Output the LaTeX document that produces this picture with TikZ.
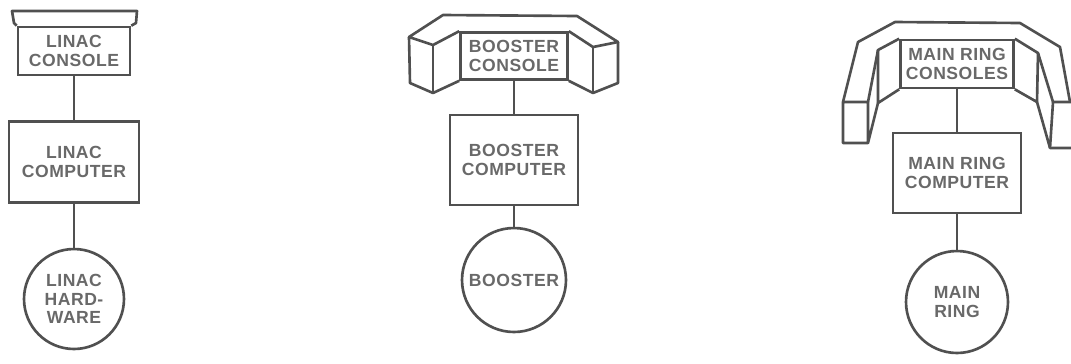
\documentclass[tikz,border=0pt]{standalone}
\usepackage{fontspec}
\usepackage{tikz}
\usetikzlibrary{positioning,calc}
\newfontfamily\labelfont[LetterSpace=3]{Liberation Sans Bold}
\definecolor{inkgray}{RGB}{80, 80, 80}
\definecolor{textgray}{RGB}{105, 105, 105}

\begin{document}
\begin{tikzpicture}[
    x=0.02cm, y=-0.02cm,
    part/.style={draw=inkgray, line width=1.5pt, inner sep=0pt, align=center,
        text=textgray, font=\labelfont\fontsize{10}{10.6}\selectfont},
    box/.style={part, rectangle},
    hw/.style={part, circle},
    wing/.style={draw=inkgray, line width=1.5pt, line join=round},
    link/.style={draw=inkgray, line width=1.5pt}
]
    \useasboundingbox (0,0) rectangle (1071,363);

    % Linac column
    \node[box, minimum width=2.24cm, minimum height=0.96cm] (lcons) at (74,51) {LINAC\\CONSOLE};
    \node[box, minimum width=2.6cm, minimum height=1.62cm] (lcomp) at (74,162) {LINAC\\COMPUTER};
    \node[hw, minimum size=2.0cm] (lhw) at (74,299) {LINAC\\HARD-\\WARE};
    \draw[wing] (lcons.north west) -- (14,23) -- (12,11) -- (137,11) -- (136,23) -- (lcons.north east);
    \draw[link] (lcons) -- (lcomp);
    \draw[link] (lcomp) -- (lhw);

    % Booster column
    \node[box, minimum width=2.14cm, minimum height=0.94cm] (bcons) at (514,56) {BOOSTER\\CONSOLE};
    \node[box, minimum width=2.56cm, minimum height=1.8cm] (bcomp) at (514,160) {BOOSTER\\COMPUTER};
    \node[hw, minimum size=2.08cm] (bhw) at (514,280) {BOOSTER};
    \draw[wing] (bcons.north west) -- (433,45) -- (409,37) -- (443,15) -- (577,16)
        -- (618,42) -- (593,47) -- (bcons.north east);
    \draw[wing] (409,37) -- (410,83) -- (433,93) -- (bcons.south west);
    \draw[wing] (433,45) -- (433,93);
    \draw[wing] (618,42) -- (618,83) -- (593,93) -- (bcons.south east);
    \draw[wing] (593,47) -- (593,93);
    \draw[link] (bcons) -- (bcomp);
    \draw[link] (bcomp) -- (bhw);

    % Main ring column
    \node[box, minimum width=2.26cm, minimum height=0.96cm] (mcons) at (957,64) {MAIN RING\\CONSOLES};
    \node[box, minimum width=2.56cm, minimum height=1.6cm] (mcomp) at (957,173) {MAIN RING\\COMPUTER};
    \node[hw, minimum size=2.04cm] (mhw) at (957,302) {MAIN\\RING};
    % left arm
    \draw[wing] (mcons.north west) -- (878,50) -- (868,102);
    \draw[wing] (878,50) -- (878,103) -- (mcons.south west);
    \draw[wing] (878,103) -- (868,143) -- (843,143) -- (843,102) -- (868,102) -- (868,143);
    \draw[wing] (843,102) -- (858,42) -- (895,22) -- (1020,23) -- (1060,47) -- (1070,102);
    % right arm
    \draw[wing] (mcons.north east) -- (1038,53) -- (1053,102);
    \draw[wing] (1038,53) -- (1037,102) -- (mcons.south east);
    \draw[wing] (1037,102) -- (1050,148) -- (1071,148);
    \draw[wing] (1071,102) -- (1053,102) -- (1050,148);
    \draw[link] (mcons) -- (mcomp);
    \draw[link] (mcomp) -- (mhw);
\end{tikzpicture}
\end{document}
